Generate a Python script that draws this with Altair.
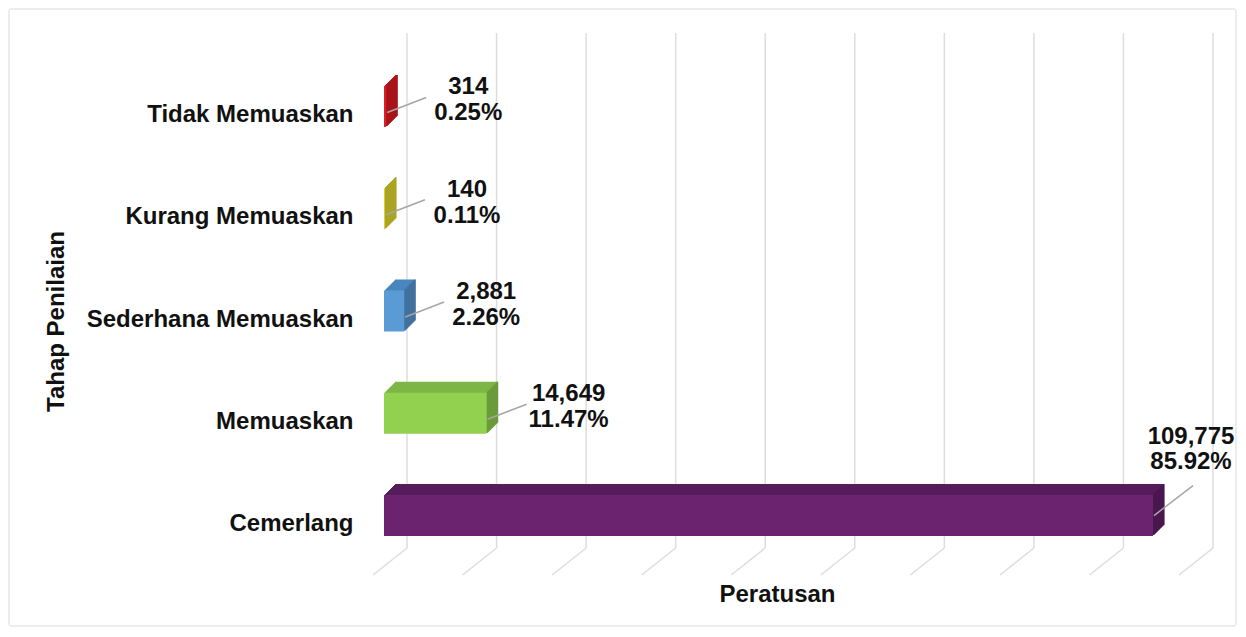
import altair as alt
import pandas as pd

# ---- data ----
categories = ["Tidak Memuaskan", "Kurang Memuaskan", "Sederhana Memuaskan", "Memuaskan", "Cemerlang"]
counts = [314, 140, 2881, 14649, 109775]
percents = [0.25, 0.11, 2.26, 11.47, 85.92]
grid_steps = list(range(10))

# ---- styles ----
front_cols = ["#D91E24", "#D8CF2C", "#5B9BD5", "#92D050", "#6B2370"]
top_cols = ["#C0181E", "#C2BA27", "#4A86BE", "#7DB646", "#561B5B"]
side_cols = ["#A81419", "#ABA322", "#41719C", "#6A9A3A", "#4A164E"]
FONT = "Liberation Sans"
DEPTH = 11

df = pd.DataFrame({"cat": categories, "value": counts, "pct": percents})
gdf = pd.DataFrame({"k": grid_steps})

y_axis = alt.Axis(
    title="Tahap Penilaian", labelFont=FONT, labelFontSize=24, labelFontWeight="bold",
    labelColor="#111111", labelPadding=31, labelOffset=8.5, labelLimit=400,
    ticks=False, domain=False, grid=False,
    titleFont=FONT, titleFontSize=24, titleFontWeight="bold", titleColor="#111111",
    titleAngle=270, titleX=-328, titleY=274, titleAlign="center", titleBaseline="middle",
)
x_axis = alt.Axis(
    title="Peratusan", labels=False, ticks=False, domain=False, grid=False,
    titleFont=FONT, titleFontSize=24, titleFontWeight="bold", titleColor="#111111",
    titleX=393, titleY=19, titleAlign="center", titleBaseline="middle",
)
y_scale = alt.Scale(paddingInner=0.599, paddingOuter=0.381)
x_scale = alt.Scale(domain=[0, 118340], nice=False, zero=True)

Y = alt.Y("cat:N", sort=categories, scale=y_scale, axis=y_axis)
X = alt.X("value:Q", scale=x_scale, axis=x_axis)

base = alt.Chart(df)


def col(rng):
    return alt.Color("cat:N", scale=alt.Scale(domain=categories, range=rng), legend=None)


layers = []
# top face (extruded copies)
for i in range(DEPTH, 0, -1):
    layers.append(
        base.mark_bar(xOffset=i, x2Offset=i, yOffset=-i, y2Offset=-i, strokeWidth=0)
        .encode(x=X, y=Y, color=col(top_cols))
    )
# side face (1px columns)
for i in range(1, DEPTH + 1):
    layers.append(
        base.mark_bar(xOffset=i - 1, x2Offset=i + 0.6, yOffset=-i, y2Offset=-i, strokeWidth=0)
        .encode(x=X, x2=alt.X2("value"), y=Y, color=col(side_cols))
    )
# front face
layers.append(base.mark_bar(strokeWidth=0).encode(x=X, y=Y, color=col(front_cols)))

big = categories[-1]
normal = f"datum.cat != '{big}'"
top1 = f"datum.cat == '{big}'"

# leader lines
layers.append(
    base.transform_filter(normal)
    .mark_rule(color="#A6A6A6", strokeWidth=1.5, xOffset=1, x2Offset=40, yOffset=6, y2Offset=-9)
    .encode(x=X, x2=alt.X2("value"), y=Y, y2=alt.Y2("cat"))
)
layers.append(
    base.transform_filter(top1)
    .mark_rule(color="#A6A6A6", strokeWidth=1.5, xOffset=1, x2Offset=40, yOffset=0, y2Offset=-30)
    .encode(x=X, x2=alt.X2("value"), y=Y, y2=alt.Y2("cat"))
)

txt = dict(font=FONT, fontSize=24, fontWeight="bold", color="#111111", align="center", baseline="middle")
layers.append(
    base.transform_filter(normal).mark_text(dx=82, dy=-19, **txt)
    .encode(x=X, y=Y, text=alt.Text("value:Q", format=","))
)
layers.append(
    base.transform_filter(normal).transform_calculate(pl="format(datum.pct, '.2f') + '%'")
    .mark_text(dx=82, dy=7, **txt).encode(x=X, y=Y, text="pl:N")
)
layers.append(
    base.transform_filter(top1).mark_text(dx=38, dy=-79, **txt)
    .encode(x=X, y=Y, text=alt.Text("value:Q", format=","))
)
layers.append(
    base.transform_filter(top1).transform_calculate(pl="format(datum.pct, '.2f') + '%'")
    .mark_text(dx=38, dy=-54, **txt).encode(x=X, y=Y, text="pl:N")
)

bars = alt.layer(*layers).resolve_scale(color="independent")

grid_x = alt.X("k:Q", scale=alt.Scale(domain=[-0.257, 9], nice=False, zero=False), axis=None)
grid_v = alt.Chart(gdf).mark_rule(color="#DDDDDD", strokeWidth=1.5).encode(
    x=grid_x, y=alt.value(-14), y2=alt.value(501)
)
grid_d = alt.Chart(gdf).mark_rule(color="#DDDDDD", strokeWidth=1.5, x2Offset=-34).encode(
    x=grid_x, x2=alt.X2("k"), y=alt.value(501), y2=alt.value(528)
)
frame = alt.Chart(alt.Data(values=[{}])).mark_rect(
    fillOpacity=0, stroke="#D9D9D9", strokeWidth=1, cornerRadius=2
).encode(x=alt.value(-375), x2=alt.value(852), y=alt.value(-38), y2=alt.value(579))

chart = (
    alt.layer(frame, grid_v, grid_d, bars)
    .resolve_scale(x="independent")
    .properties(
        width=829, height=528,
        padding={"left": 376, "top": 39, "right": 25, "bottom": 52},
        autosize=alt.AutoSizeParams(type="none"),
        background="white",
    )
    .configure_view(stroke=None)
)

chart.save("out.html", embed_options={"renderer": "svg", "actions": False})
